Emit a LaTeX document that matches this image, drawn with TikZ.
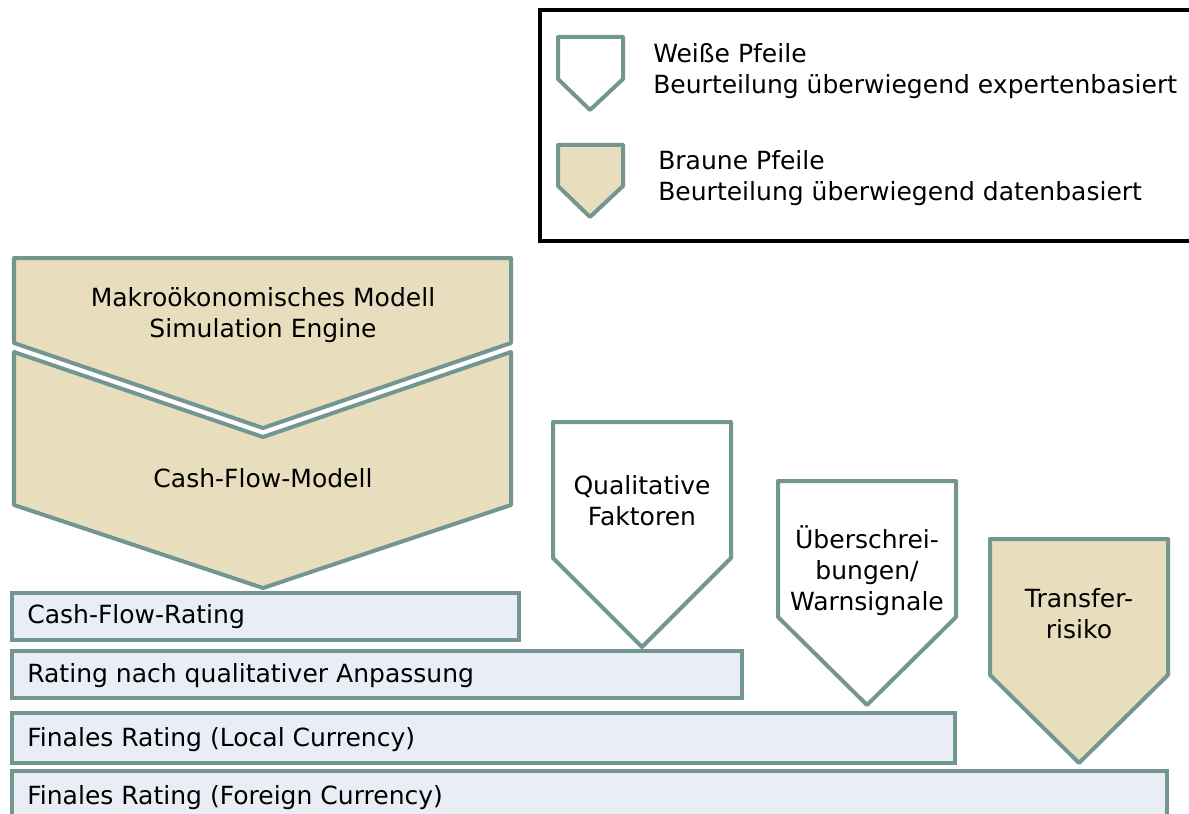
\documentclass[tikz,border=0pt]{standalone}
\usepackage{fontspec}
\setmainfont{DejaVu Sans}
\definecolor{rahmen}{RGB}{115,150,145}
\definecolor{braun}{RGB}{232,222,190}
\definecolor{balken}{RGB}{233,238,246}
\tikzset{
  pfeil/.style={draw=rahmen, line width=1mm, line join=round},
  weiss/.style={pfeil, fill=white},
  braunpfeil/.style={pfeil, fill=braun},
  bar/.style={draw=rahmen, fill=balken, line width=1mm},
  txt/.style={font=\fontsize{17.8}{22}\selectfont, align=center, inner sep=0pt},
  bartxt/.style={txt, anchor=west, align=left}
}
\begin{document}
\begin{tikzpicture}[x=0.025cm, y=-0.025cm]
  \useasboundingbox (0,0) rectangle (1189,814);
  \clip (0,0) rectangle (1189,814);
  % legend
  \draw[line width=0.8mm] (540,10) rectangle (1200,241);
  \draw[weiss] (558,37) -- (623,37) -- (623,79) -- (590,110) -- (558,79) -- cycle;
  \node[txt, anchor=west, align=left] (legweiss) at (653,71) {Weiße Pfeile\\Beurteilung überwiegend expertenbasiert};
  \draw[braunpfeil] (558,145) -- (623,145) -- (623,186) -- (590,217) -- (558,186) -- cycle;
  \node[txt, anchor=west, align=left] (legbraun) at (658,178) {Braune Pfeile\\Beurteilung überwiegend datenbasiert};
  % left arrows
  \draw[braunpfeil] (14,258) -- (511,258) -- (511,343) -- (263,428) -- (14,343) -- cycle;
  \node[txt] (makro) at (263,315) {Makroökonomisches Modell\\Simulation Engine};
  \draw[braunpfeil] (14,352) -- (263,437) -- (511,352) -- (511,505) -- (263,588) -- (14,505) -- cycle;
  \node[txt] (cfm) at (263,478) {Cash-Flow-Modell};
  % right arrows
  \draw[weiss] (553,422) -- (731,422) -- (731,558) -- (642,647) -- (553,558) -- cycle;
  \node[txt] (qual) at (642,501) {Qualitative\\Faktoren};
  \draw[weiss] (778,481) -- (956,481) -- (956,617) -- (867,705) -- (778,617) -- cycle;
  \node[txt] (ueber) at (867,571) {Überschrei-\\bungen/\\Warnsignale};
  \draw[braunpfeil] (990,539) -- (1168,539) -- (1168,675) -- (1079,763) -- (990,675) -- cycle;
  \node[txt] (transfer) at (1079,614) {Transfer-\\risiko};
  % bars
  \draw[bar] (12,593) rectangle (519,640);
  \node[bartxt] (cfr) at (27,617) {Cash-Flow-Rating};
  \draw[bar] (12,651) rectangle (742,698);
  \node[bartxt] (qualr) at (27,676) {Rating nach qualitativer Anpassung};
  \draw[bar] (12,713) rectangle (955,763);
  \node[bartxt] (localr) at (27,740) {Finales Rating (Local Currency)};
  \draw[bar] (12,771) rectangle (1167,830);
  \node[bartxt] (foreignr) at (27,798) {Finales Rating (Foreign Currency)};
\end{tikzpicture}
\end{document}
